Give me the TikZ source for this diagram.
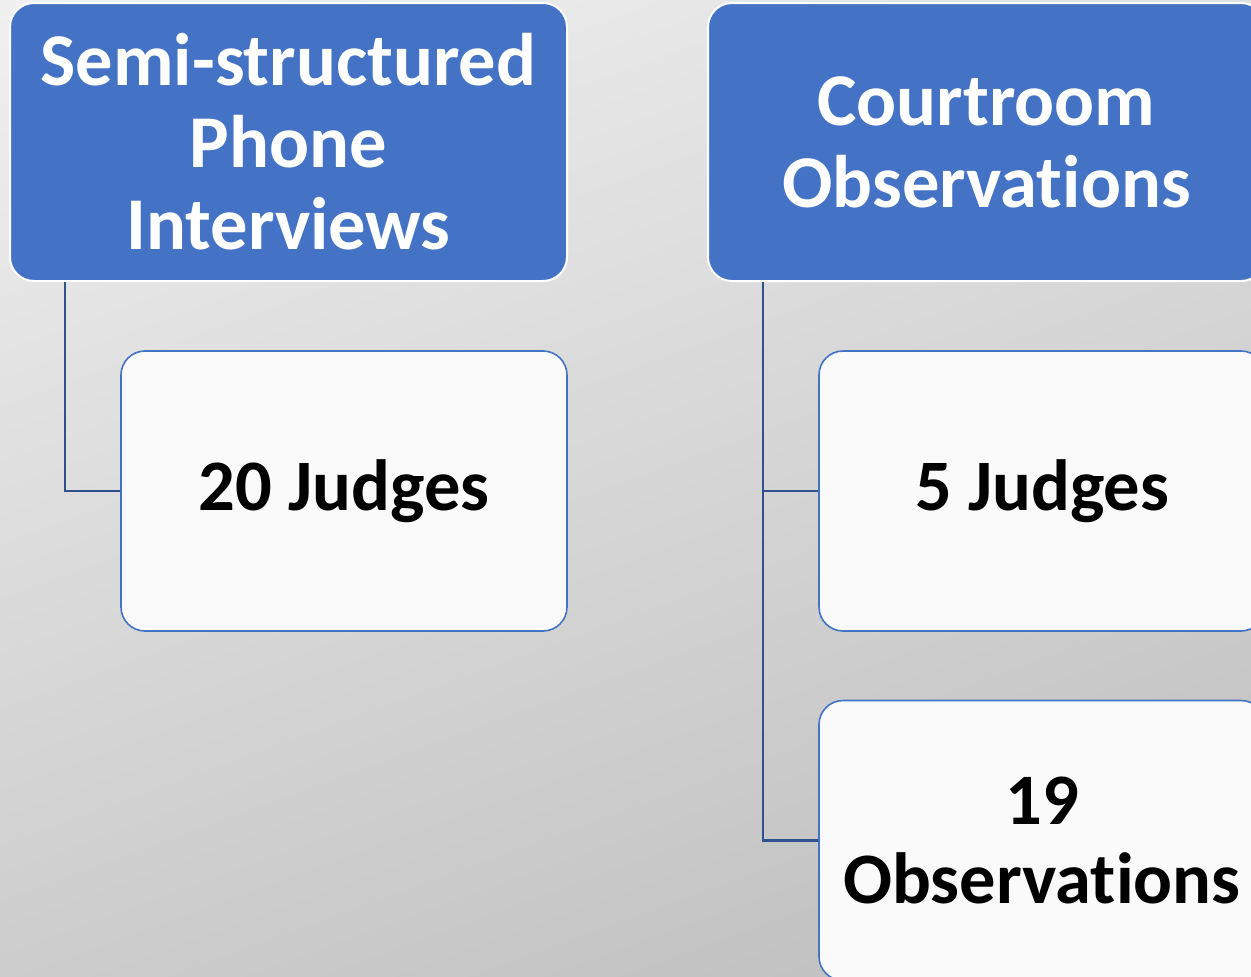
\documentclass[tikz,border=0pt]{standalone}
\usepackage{fontspec}
\setmainfont{Carlito}[Ligatures=NoCommon]
\definecolor{accent}{HTML}{4472C4}
\definecolor{linkblue}{HTML}{2F528F}
\definecolor{cardfill}{HTML}{FAFAFA}
\begin{document}
\begin{tikzpicture}[x=1pt,y=-1pt,
  header/.style={rectangle, rounded corners=24pt, fill=accent, draw=white, line width=2pt,
    minimum width=557pt, minimum height=278pt, text=white, align=center,
    font=\fontsize{74.5}{82}\selectfont\bfseries, inner sep=0pt},
  card/.style={rectangle, rounded corners=24pt, fill=cardfill, draw=accent, line width=1.6pt,
    minimum width=446pt, minimum height=280pt, text=black, align=center,
    font=\fontsize{72.5}{79}\selectfont\bfseries, inner sep=0pt},
  link/.style={draw=linkblue, line width=2.2pt}]
  % page and backdrop
  \useasboundingbox (0,0) rectangle (1251,977);
  \clip (0,0) rectangle (1251,977);
  \shade[top color=white!95!black, bottom color=white!73!black, shading angle=20]
    (-200,-200) rectangle (1451,1177);
  % x positions of the vertical connector trunks
  \coordinate (l1) at (65,281);
  \coordinate (r1) at (763,281);
  % boxes
  \node[header] (h1) at (288.5,142) {Semi-structured\\Phone\\Interviews};
  \node[header] (h2) at (986.5,142) {Courtroom\\Observations};
  \node[card] (c1) at (344,491) {20 Judges};
  \node[card] (c2) at (1042,491) {5 Judges};
  \node[card] (c3) at (1042,840.5) {19\\Observations};
  % connectors
  \draw[link] (h1.south -| l1) |- (c1.west);
  \draw[link] (h2.south -| r1) |- (c2.west);
  \draw[link] (h2.south -| r1) |- (c3.west);
\end{tikzpicture}
\end{document}
